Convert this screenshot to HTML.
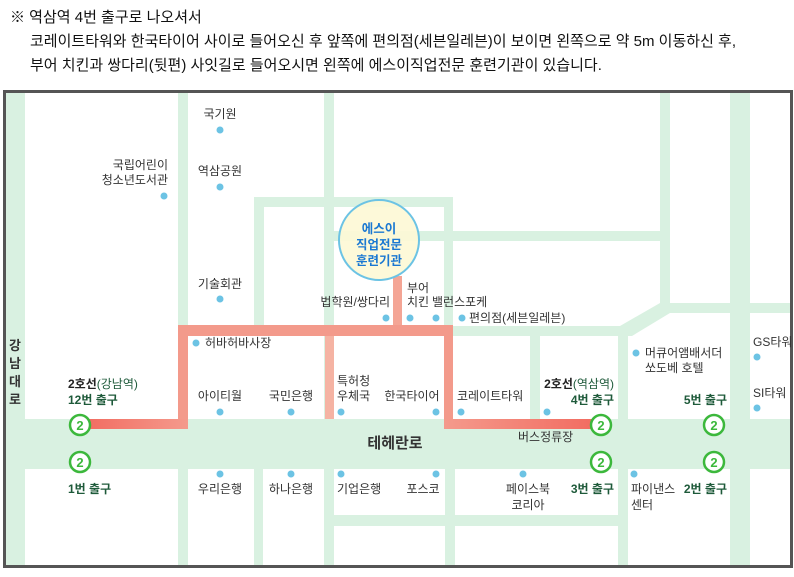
<!DOCTYPE html>
<html><head><meta charset="utf-8"><style>
body{margin:0;width:794px;height:577px;background:#fff;overflow:hidden;font-family:"Liberation Sans","Noto Sans CJK KR",sans-serif;}
.h{position:absolute;left:0;font-size:15px;color:#111;white-space:nowrap;}
svg text{font-family:"Liberation Sans","Noto Sans CJK KR",sans-serif;}
</style></head><body>
<div class="h" style="left:10px;top:6px">※ 역삼역 4번 출구로 나오셔서</div>
<div class="h" style="left:30px;top:30px">코레이트타워와 한국타이어 사이로 들어오신 후 앞쪽에 편의점(세븐일레븐)이 보이면 왼쪽으로 약 5m 이동하신 후,</div>
<div class="h" style="left:30px;top:54px">부어 치킨과 쌍다리(뒷편) 사잇길로 들어오시면 왼쪽에 에스이직업전문 훈련기관이 있습니다.</div>
<svg width="794" height="577" style="position:absolute;left:0;top:0">
<defs>
<linearGradient id="g1" x1="0" x2="1"><stop offset="0" stop-color="#f26a5f"/><stop offset="1" stop-color="#f49a8c"/></linearGradient>
<linearGradient id="g2" x1="0" x2="1"><stop offset="0" stop-color="#f49a8c"/><stop offset="1" stop-color="#f26a5f"/></linearGradient>
</defs>
<g fill="#d9f1e1">
<rect x="5" y="91" width="20" height="476"/>
<rect x="178" y="91" width="10" height="476"/>
<rect x="324" y="91" width="10" height="476"/>
<rect x="254" y="197" width="10" height="130"/>
<rect x="444" y="197" width="9" height="222"/>
<rect x="254" y="197" width="199" height="10"/>
<rect x="334" y="231" width="336" height="10"/>
<rect x="660" y="91" width="10" height="219"/>
<polygon points="660,303 670,313 632,336 620,336 620,326"/>
<rect x="730" y="91" width="20" height="476"/>
<rect x="660" y="303" width="132" height="10"/>
<rect x="178" y="326" width="452" height="10"/>
<rect x="530" y="336" width="10" height="83"/>
<rect x="5" y="419" width="787" height="50"/>
<rect x="618" y="326" width="10" height="241"/>
<rect x="334" y="515" width="284" height="11"/>
<rect x="254" y="469" width="9" height="98"/>
<rect x="445" y="469" width="10" height="98"/>
</g>
<rect x="4.5" y="91.5" width="787" height="475" fill="none" stroke="#555" stroke-width="3"/>
<rect x="393" y="276" width="9" height="50" fill="#f4a595"/>
<rect x="325" y="336" width="9" height="83" fill="#f5b3a3"/>
<rect x="178" y="325" width="275" height="11" fill="#f39a8b"/>
<rect x="178" y="325" width="10" height="104" fill="#f39a8b"/>
<rect x="80" y="419" width="108" height="10" fill="url(#g1)"/>
<rect x="444" y="325" width="9" height="104" fill="#f39a8b"/>
<rect x="444" y="419" width="157" height="10" fill="url(#g2)"/>
<circle cx="379" cy="240" r="40" fill="#fdf8d6" fill-opacity="0.92" stroke="#6cc3e4" stroke-width="2"/>
<g font-size="12.5" font-weight="bold" fill="#1a78d2" text-anchor="middle">
<text x="379" y="233">에스이</text><text x="379" y="249">직업전문</text><text x="379" y="265">훈련기관</text></g>
<g fill="#6cc3e4">
<circle cx="220" cy="130" r="3.5"/><circle cx="220" cy="187" r="3.5"/><circle cx="164" cy="196" r="3.5"/><circle cx="220" cy="299" r="3.5"/>
<circle cx="386" cy="318" r="3.5"/><circle cx="410" cy="318" r="3.5"/><circle cx="436" cy="318" r="3.5"/><circle cx="462" cy="318" r="3.5"/>
<circle cx="196" cy="343" r="3.5"/><circle cx="220" cy="412" r="3.5"/><circle cx="291" cy="412" r="3.5"/><circle cx="341" cy="412" r="3.5"/>
<circle cx="436" cy="412" r="3.5"/><circle cx="461" cy="412" r="3.5"/><circle cx="547" cy="412" r="3.5"/><circle cx="636" cy="353" r="3.5"/>
<circle cx="757" cy="357" r="3.5"/><circle cx="757" cy="408" r="3.5"/>
<circle cx="220" cy="474" r="3.5"/><circle cx="291" cy="474" r="3.5"/><circle cx="341" cy="474" r="3.5"/><circle cx="436" cy="474" r="3.5"/><circle cx="523" cy="474" r="3.5"/><circle cx="634" cy="474" r="3.5"/>
</g>
<g font-size="12" fill="#333">
<text x="220" y="118" text-anchor="middle">국기원</text>
<text x="220" y="175" text-anchor="middle">역삼공원</text>
<text x="168" y="169" text-anchor="end">국립어린이</text><text x="168" y="184" text-anchor="end">청소년도서관</text>
<text x="220" y="288" text-anchor="middle">기술회관</text>
<text x="390" y="306" text-anchor="end">법학원/쌍다리</text>
<text x="407" y="292">부어</text><text x="407" y="306">치킨</text><text x="432" y="306">밸런스포케</text>
<text x="469" y="322">편의점(세븐일레븐)</text>
<text x="205" y="347">허바허바사장</text>
<text x="220" y="400" text-anchor="middle">아이티월</text>
<text x="291" y="400" text-anchor="middle">국민은행</text>
<text x="337" y="385">특허청</text><text x="337" y="400">우체국</text>
<text x="412" y="400" text-anchor="middle">한국타이어</text>
<text x="457" y="400">코레이트타워</text>
<text x="645" y="357">머큐어앰배서더</text><text x="645" y="372">쏘도베 호텔</text>
<text x="753" y="346">GS타워</text><text x="753" y="397">SI타워</text>
<text x="518" y="441">버스정류장</text>
<text x="220" y="493" text-anchor="middle">우리은행</text>
<text x="291" y="493" text-anchor="middle">하나은행</text>
<text x="337" y="493">기업은행</text>
<text x="423" y="493" text-anchor="middle">포스코</text>
<text x="528" y="493" text-anchor="middle">페이스북</text><text x="528" y="509" text-anchor="middle">코리아</text>
<text x="631" y="493">파이낸스</text><text x="631" y="509">센터</text>
</g>
<g font-size="13" fill="#333" font-weight="bold" text-anchor="middle">
<text x="15" y="350">강</text><text x="15" y="368">남</text><text x="15" y="386">대</text><text x="15" y="404">로</text>
</g>
<text x="395" y="448" font-size="15" font-weight="bold" fill="#333" text-anchor="middle">테헤란로</text>
<g font-size="12" font-weight="bold" fill="#1e5a3a">
<text x="68" y="388"><tspan fill="#222">2호선</tspan><tspan font-weight="normal">(강남역)</tspan></text>
<text x="68" y="404">12번 출구</text>
<text x="614" y="388" text-anchor="end"><tspan fill="#222">2호선</tspan><tspan font-weight="normal">(역삼역)</tspan></text>
<text x="614" y="404" text-anchor="end">4번 출구</text>
<text x="727" y="404" text-anchor="end">5번 출구</text>
<text x="68" y="493">1번 출구</text>
<text x="614" y="493" text-anchor="end">3번 출구</text>
<text x="727" y="493" text-anchor="end">2번 출구</text>
</g>
<g fill="#fff" stroke="#3cb83c" stroke-width="2.5">
<circle cx="80" cy="425" r="10"/><circle cx="80" cy="462" r="10"/><circle cx="601" cy="425" r="10"/><circle cx="601" cy="462" r="10"/><circle cx="714" cy="425" r="10"/><circle cx="714" cy="462" r="10"/>
</g>
<g font-size="13" font-weight="bold" fill="#3cb83c" text-anchor="middle">
<text x="80" y="430">2</text><text x="80" y="467">2</text><text x="601" y="430">2</text><text x="601" y="467">2</text><text x="714" y="430">2</text><text x="714" y="467">2</text>
</g>
</svg>
</body></html>
